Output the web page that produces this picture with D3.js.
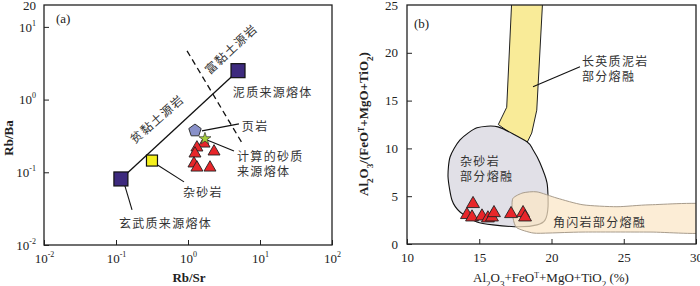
<!DOCTYPE html>
<html>
<head>
<meta charset="utf-8">
<script src="https://cdn.jsdelivr.net/npm/d3@7"></script>
<style>
  body { margin: 0; background: #fff; }
  svg { display: block; }
  .tick line { stroke: #222; stroke-width: 1; }
  .tick text { font-family: "Liberation Serif", serif; font-size: 13px; fill: #222; }
  .cn { font-family: "Noto Sans CJK SC", sans-serif; font-size: 12px; fill: #333; letter-spacing: 1.3px; }
  .axlabel { font-family: "Liberation Serif", serif; font-size: 13px; fill: #222; }
</style>
</head>
<body>
<svg width="700" height="286"></svg>
<script>
// ---- panel (a): Rb/Sr vs Rb/Ba (log-log) ----
var aTicksX = [0.01, 0.1, 1, 10, 100]
var aTicksY = [0.01, 0.1, 1, 10, 20]
var basaltMelt = [0.117, 0.081]
var peliteMelt = [4.95, 2.5]
var shale = [1.25, 0.375]
var calcMelt = [1.72, 0.29]
var greywacke = [0.316, 0.145]
var samplesA = [[1.67, 0.248], [1.33, 0.219], [2.3, 0.193], [1.25, 0.181], [1.21, 0.132], [1.33, 0.116], [2.02, 0.116]]
var clayDivide = [[0.97, 4.68], [5.62, 0.254]]

// ---- panel (b): Al2O3+FeOT+MgO+TiO2 vs Al2O3/(FeOT+MgO+TiO2) ----
var bTicksX = [10, 15, 20, 25, 30]
var bTicksY = [0, 5, 10, 15, 20, 25]
var felsicField = [[17.25, 25.5], [19.39, 25.5], [18.98, 14.0], [18.63, 11.6], [18.24, 10.4], [16.32, 12.5], [16.9, 14.3]]
var greywackeField = [[16.3, 12.25], [14.84, 12.15], [13.67, 10.9], [12.98, 9.1], [12.84, 7.0], [13.11, 4.6], [13.67, 3.35],
  [14.84, 2.3], [15.95, 2.0], [17.82, 1.8], [19.0, 2.0], [19.55, 2.5], [19.76, 3.9], [19.69, 6.4], [19.2, 8.5], [18.72, 9.85], [18.3, 10.7]]
var amphiboliteField = [[17.34, 4.8], [18.03, 5.35], [19.0, 5.45], [20.38, 4.8], [22.18, 4.1], [24.53, 3.9], [26.82, 4.1], [31, 4.1],
  [31, 1.25], [26.82, 1.25], [22.18, 1.25], [19.9, 1.15], [18.72, 1.15], [17.6, 1.7], [17.34, 2.7], [17.27, 3.9]]
var samplesB = [[14.57, 4.2], [14.15, 3.05], [14.5, 2.8], [15.19, 2.9], [15.6, 2.7], [15.88, 2.8], [16.02, 3.25], [17.2, 3.15], [18.03, 3.25], [18.17, 2.8]]

var svg = d3.select('svg')

function box(g, x, y) {
  g.append('rect')
    .attr('x', x.range()[0]).attr('y', y.range()[1])
    .attr('width', x.range()[1] - x.range()[0])
    .attr('height', y.range()[0] - y.range()[1])
    .attr('fill', 'none').attr('stroke', '#222').attr('stroke-width', 1.3)
}

function cnText(g, x, y, lines, anchor) {
  var t = g.append('text').attr('class', 'cn')
    .attr('x', x).attr('y', y).attr('text-anchor', anchor || 'start')
    .attr('dominant-baseline', 'central')
  lines.forEach(function (s, i) {
    t.append('tspan').attr('x', x).attr('dy', i === 0 ? 0 : 15).text(s)
  })
  return t
}

function leader(g, x1, y1, x2, y2) {
  g.append('line').attr('x1', x1).attr('y1', y1).attr('x2', x2).attr('y2', y2)
    .attr('stroke', '#111').attr('stroke-width', 1.1)
}

function supLabels(sel) {
  sel.selectAll('.tick text').each(function (d) {
    if (d === 20) return
    var t = d3.select(this)
    t.text('10')
    t.append('tspan').attr('dy', -6).attr('font-size', 8).text(Math.round(Math.log10(d)))
  })
}

// ================= panel (a) =================
var xa = d3.scaleLog().domain([0.01, 100]).range([44, 332])
var ya = d3.scaleLog().domain([0.01, 20]).range([245, 5])
var ga = svg.append('g')

var axA = ga.append('g').attr('transform', 'translate(0,' + ya.range()[0] + ')')
  .call(d3.axisBottom(xa).tickValues(aTicksX).tickSize(-5).tickPadding(9))
axA.select('.domain').remove()
supLabels(axA)
var ayA = ga.append('g').attr('transform', 'translate(' + xa.range()[0] + ',0)')
  .call(d3.axisLeft(ya).tickValues(aTicksY).tickSize(-5).tickPadding(8).tickFormat(d3.format('d')))
ayA.select('.domain').remove()
ayA.selectAll('.tick').filter(function (d) { return d === 20 }).select('line').remove()
supLabels(ayA)
box(ga, xa, ya)

ga.append('text').attr('x', 56).attr('y', 23).attr('class', 'axlabel').attr('font-size', 12).text('(a)')
ga.append('text').attr('class', 'axlabel').attr('font-weight', 'bold').attr('font-size', 12)
  .attr('text-anchor', 'middle').attr('transform', 'translate(13,138) rotate(-90)').text('Rb/Ba')
ga.append('text').attr('class', 'axlabel').attr('font-weight', 'bold').attr('font-size', 12)
  .attr('text-anchor', 'middle').attr('x', 189).attr('y', 282).text('Rb/Sr')

// clay-rich / clay-poor boundary (dashed) and mixing line
ga.append('line')
  .attr('x1', xa(clayDivide[0][0])).attr('y1', ya(clayDivide[0][1]))
  .attr('x2', xa(clayDivide[1][0])).attr('y2', ya(clayDivide[1][1]))
  .attr('stroke', '#111').attr('stroke-width', 1.3).attr('stroke-dasharray', '6,4')
ga.append('line')
  .attr('x1', xa(basaltMelt[0])).attr('y1', ya(basaltMelt[1]))
  .attr('x2', xa(peliteMelt[0])).attr('y2', ya(peliteMelt[1]))
  .attr('stroke', '#111').attr('stroke-width', 1.3)

cnText(ga, xa(0.36), ya(0.56), ['贫黏土源岩'], 'middle').attr('transform', 'rotate(-41,' + xa(0.36) + ',' + ya(0.56) + ')')
cnText(ga, xa(3.83), ya(5.14), ['富黏土源岩'], 'middle').attr('transform', 'rotate(-43,' + xa(3.83) + ',' + ya(5.14) + ')')

// leader lines + labels
leader(ga, xa(1.56), ya(0.371), xa(5.1), ya(0.463))
cnText(ga, xa(5.6), ya(0.45), ['页岩'])
leader(ga, xa(1.84), ya(0.279), xa(4.35), ya(0.197))
cnText(ga, xa(4.8), ya(0.174), ['计算的砂质', '来源熔体'])
leader(ga, xa(0.337), ya(0.135), xa(0.88), ya(0.0738))
cnText(ga, xa(0.85), ya(0.0555), ['杂砂岩'])
leader(ga, xa(0.133), ya(0.065), xa(0.167), ya(0.0304))
cnText(ga, xa(0.11), ya(0.0208), ['玄武质来源熔体'])
cnText(ga, xa(4.2), ya(1.32), ['泥质来源熔体'])

function square(g, p, s, fill) {
  g.append('rect').attr('x', xa(p[0]) - s / 2).attr('y', ya(p[1]) - s / 2)
    .attr('width', s).attr('height', s).attr('fill', fill).attr('stroke', '#111').attr('stroke-width', 1.2)
}
square(ga, basaltMelt, 14, '#3d2a7e')
square(ga, peliteMelt, 14, '#3d2a7e')
square(ga, greywacke, 11, '#f4ef1c')

// shale pentagon
var pent = d3.range(5).map(function (i) {
  var a = -Math.PI / 2 + i * 2 * Math.PI / 5
  return [xa(shale[0]) + 6.5 * Math.cos(a), ya(shale[1]) + 6.5 * Math.sin(a)]
})
ga.append('polygon').attr('points', pent.join(' '))
  .attr('fill', '#8991c9').attr('stroke', '#333').attr('stroke-width', 1)

var tri = d3.symbol().type(d3.symbolTriangle).size(62)
ga.selectAll('.triA').data(samplesA).enter().append('path')
  .attr('transform', function (d) { return 'translate(' + xa(d[0]) + ',' + ya(d[1]) + ')' })
  .attr('d', tri).attr('fill', '#e8262a').attr('stroke', '#222').attr('stroke-width', 0.9)

ga.append('path').attr('transform', 'translate(' + xa(calcMelt[0]) + ',' + ya(calcMelt[1]) + ')')
  .attr('d', d3.symbol().type(d3.symbolStar).size(45))
  .attr('fill', '#a6cf3a').attr('stroke', '#333').attr('stroke-width', 0.7)

// ================= panel (b) =================
var xb = d3.scaleLinear().domain([10, 30]).range([407, 696])
var yb = d3.scaleLinear().domain([0, 25]).range([244, 5])
var gb = svg.append('g')

var clip = svg.append('defs').append('clipPath').attr('id', 'clipB')
clip.append('rect').attr('x', 407).attr('y', 5).attr('width', 289).attr('height', 239)

var axB = gb.append('g').attr('transform', 'translate(0,' + yb.range()[0] + ')')
  .call(d3.axisBottom(xb).tickValues(bTicksX).tickSize(-5).tickPadding(9))
axB.select('.domain').remove()
var ayB = gb.append('g').attr('transform', 'translate(' + xb.range()[0] + ',0)')
  .call(d3.axisLeft(yb).tickValues(bTicksY).tickSize(-5).tickPadding(9))
ayB.select('.domain').remove()
ayB.selectAll('.tick').filter(function (d) { return d === 25 }).select('line').remove()

var line = d3.line().x(function (d) { return xb(d[0]) }).y(function (d) { return yb(d[1]) })
var smooth = d3.line().x(function (d) { return xb(d[0]) }).y(function (d) { return yb(d[1]) }).curve(d3.curveCardinalClosed.tension(0.3))
var fields = gb.append('g').attr('clip-path', 'url(#clipB)')

fields.append('path').datum(felsicField).attr('d', line(felsicField) + 'Z')
  .attr('fill', '#f9eb98').attr('stroke', '#222').attr('stroke-width', 1)
fields.append('path').datum(greywackeField).attr('d', smooth)
  .attr('fill', '#e1e0e7').attr('stroke', '#111').attr('stroke-width', 1.1)
fields.append('path').datum(amphiboliteField).attr('d', smooth)
  .attr('fill', '#fbe6c6').attr('fill-opacity', 0.72).attr('stroke', '#a89c8c').attr('stroke-width', 1)

box(gb, xb, yb)

gb.append('text').attr('x', 414).attr('y', 28).attr('class', 'axlabel').attr('font-size', 12).text('(b)')

leader(gb, xb(18.72), yb(16.44), xb(21.97), yb(18.53))
cnText(gb, xb(22.11), yb(19.27), ['长英质泥岩', '部分熔融'])
cnText(gb, xb(13.67), yb(8.8), ['杂砂岩', '部分熔融'])
cnText(gb, xb(20.1), yb(2.4), ['角闪岩部分熔融'])

gb.selectAll('.triB').data(samplesB).enter().append('path')
  .attr('transform', function (d) { return 'translate(' + xb(d[0]) + ',' + yb(d[1]) + ')' })
  .attr('d', d3.symbol().type(d3.symbolTriangle).size(72)).attr('fill', '#e8262a').attr('stroke', '#222').attr('stroke-width', 0.9)

// axis titles with sub/superscripts
function chem(t, parts) {
  parts.forEach(function (p) {
    var s = t.append('tspan').text(p[0])
    if (p[1] === 'sub') s.attr('baseline-shift', 'sub').attr('font-size', '0.7em')
    if (p[1] === 'sup') s.attr('baseline-shift', 'super').attr('font-size', '0.6em')
  })
}
var yt = gb.append('text').attr('class', 'axlabel').attr('font-weight', 'bold').attr('text-anchor', 'middle')
  .attr('transform', 'translate(368,124) rotate(-90)')
chem(yt, [['Al'], ['2', 'sub'], ['O'], ['3', 'sub'], ['/(FeO'], ['T', 'sup'], ['+MgO+TiO'], ['2', 'sub'], [')']])
var xt = gb.append('text').attr('class', 'axlabel').attr('font-size', 12).attr('text-anchor', 'middle')
  .attr('x', 551).attr('y', 282)
chem(xt, [['Al'], ['2', 'sub'], ['O'], ['3', 'sub'], ['+FeO'], ['T', 'sup'], ['+MgO+TiO'], ['2', 'sub'], [' (%)']])
</script>
</body>
</html>
